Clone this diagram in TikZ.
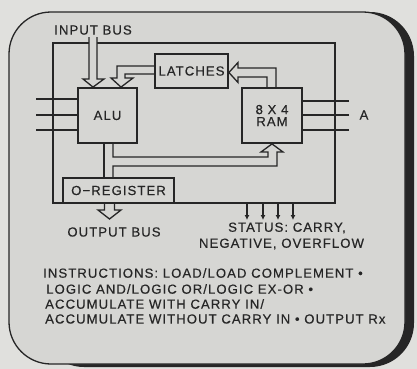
\documentclass[tikz,border=0pt]{standalone}
\usepackage{fontspec}
\setmainfont[LetterSpace=8,FakeBold=0.4]{Liberation Sans}
\usetikzlibrary{arrows.meta,calc}
\definecolor{bgc}{RGB}{224,224,221}
\definecolor{cardc}{RGB}{214,214,211}
\definecolor{inkc}{RGB}{38,38,38}
\newcommand{\lbfont}{\fontsize{13.2}{14}\selectfont}
\begin{document}
\begin{tikzpicture}[x=1bp,y=-1bp,
  blk/.style={draw=inkc, line width=1.8bp, fill=cardc, inner sep=0pt},
  lbl/.style={inner sep=0pt, text=inkc, font=\lbfont},
  wire/.style={draw=inkc, line width=1.3bp},
  busline/.style={draw=inkc, line width=1.3bp, fill=cardc, line join=miter},
  sarrow/.style={draw=inkc, line width=1.3bp, -{Latex[length=5bp,width=5bp]}},
]
\useasboundingbox (0,0) rectangle (417,369);
\fill[bgc] (0,0) rectangle (417,369);
% card with shadow
\fill[inkc, rounded corners=44bp] (40,12) rectangle (414,367);
\draw[inkc, fill=cardc, line width=1.3bp, rounded corners=42bp] (9,12) rectangle (405,364);

% chip frame
\node[draw=inkc, line width=1.6bp, minimum width=282bp, minimum height=160bp, inner sep=0pt] (chip) at (194,123) {};

% boxes (placed first so anchors exist)
\node[blk, minimum width=59bp, minimum height=55bp] (alu) at (107.5,115.5) {};
\node[blk, minimum width=73bp, minimum height=34bp] (latches) at (191.5,71) {};
\node[blk, minimum width=60bp, minimum height=55bp] (ram) at (272,115.5) {};
\node[blk, minimum width=111bp, minimum height=25bp] (oreg) at (118.5,190.5) {};

% left input lines
\foreach \y/\n in {99/l1,115/l2,130/l3}{
  \coordinate (\n) at (36,\y);
  \draw[wire] (\n) -- (\n -| alu.west);
}
% right lines
\foreach \y/\n in {101/r1,115/r2,130/r3}{
  \coordinate (\n) at (349,\y);
  \draw[wire] (\n) -- (\n -| ram.east);
}

% input bus
\coordinate (inb) at (93,37);
\filldraw[busline] (89,37) -- (89,79) -- (83,79) -- (inb |- alu.north) -- (104,79) -- (97,79) -- (97,37);
% latches -> ALU
\filldraw[busline] (latches.west |- 0,66) -- (117,66) -- (117,78) -- (111,78) -- (121,0 |- alu.north) -- (133,78) -- (125,78) -- (125,74) -- (latches.west |- 0,74);
% RAM -> latches
\filldraw[busline] (267,0 |- ram.north) -- (267,77) -- (238,77) -- (238,82.5) -- (latches.east |- 0,72.5) -- (238,62.5) -- (238,68) -- (276,68) -- (276,0 |- ram.north);
% ALU -> O-register and RAM
\draw[busline] (104,0 |- alu.south) -- (104,0 |- oreg.north);
\draw[busline, fill=none] (113,0 |- alu.south) -- (113,157) -- (268,157) -- (268,152) -- (261,152) -- (272,0 |- ram.south) -- (283,152) -- (277,152) -- (277,166) -- (113,166) -- (113,0 |- oreg.north);
% output bus
\filldraw[busline] (104.5,0 |- oreg.south) -- (104.5,210) -- (98,210) -- (109.5,219) -- (121,210) -- (114.5,210) -- (114.5,0 |- oreg.south);

% redraw boxes on top
\node[blk, minimum width=59bp, minimum height=55bp] at (alu) {};
\node[blk, minimum width=73bp, minimum height=34bp] at (latches) {};
\node[blk, minimum width=60bp, minimum height=55bp] at (ram) {};
\node[blk, minimum width=111bp, minimum height=25bp] at (oreg) {};

% status arrows
\foreach \x/\n in {247/s1,263/s2,278/s3,293/s4}{
  \coordinate (\n) at (\x,220);
  \draw[sarrow] (\n |- chip.south) -- (\n);
}

% labels
\node[lbl] (tinb) at (93,30) {INPUT BUS};
\node[lbl] (talu) at (alu) {ALU};
\node[lbl] (tlat) at (latches) {LATCHES};
\node[lbl, align=center] (tram) at (ram) {8 X 4\\[-2bp]RAM};
\node[lbl] (treg) at (oreg) {O−REGISTER};
\node[lbl] (ta) at (364,115) {A};
\node[lbl] (tout) at (114,232) {OUTPUT BUS};
\node[lbl] (tst1) at (287,228) {STATUS: CARRY,};
\node[lbl] (tst2) at (281.5,244) {NEGATIVE, OVERFLOW};
\node[lbl, anchor=west] (ti1) at (43,273) {INSTRUCTIONS: LOAD/LOAD COMPLEMENT •};
\node[lbl, anchor=west] (ti2) at (46,289) {LOGIC AND/LOGIC OR/LOGIC EX-OR •};
\node[lbl, anchor=west] (ti3) at (45,304) {ACCUMULATE WITH CARRY IN/};
\node[lbl, anchor=west] (ti4) at (45,319) {ACCUMULATE WITHOUT CARRY IN • OUTPUT Rx};
\end{tikzpicture}
\end{document}
